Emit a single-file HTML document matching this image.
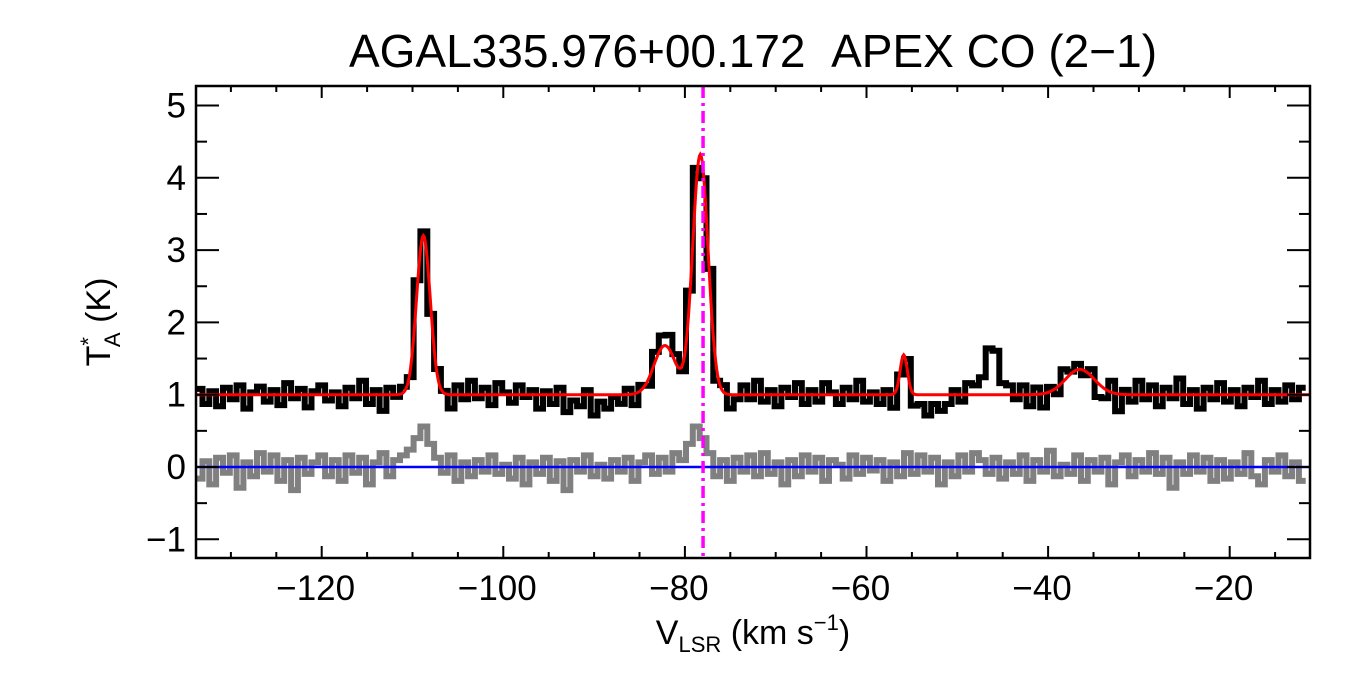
<!DOCTYPE html>
<html><head><meta charset="utf-8"><style>
body{margin:0;background:#fff;}
svg{display:block;font-family:"Liberation Sans",Arial,sans-serif;}
</style></head><body>
<svg id="chart" width="1350" height="675" viewBox="0 0 1350 675" xmlns="http://www.w3.org/2000/svg">
<defs><clipPath id="pc"><rect x="196" y="86" width="1114" height="472"/></clipPath></defs>
<rect width="1350" height="675" fill="#fff"/>
<text x="753" y="67" font-size="46" text-anchor="middle">AGAL335.976+00.172&#160;&#160;APEX CO (2−1)</text>
<g id="plot" clip-path="url(#pc)"></g>
<rect x="196" y="86" width="1114" height="472" fill="none" stroke="#000" stroke-width="2.5"/>
<g id="axes"></g>
<text transform="translate(110,322) rotate(-90)" font-size="34" text-anchor="middle">T<tspan font-size="22" dy="-14">*</tspan><tspan font-size="22" dx="-10" dy="24">A</tspan><tspan dy="-10"> (K)</tspan></text>
<text x="753" y="644" font-size="34" text-anchor="middle">V<tspan font-size="22" dy="8">LSR</tspan><tspan dy="-8"> (km s</tspan><tspan font-size="22" dy="-14">−1</tspan><tspan dy="14">)</tspan></text>
</svg>
<script>
const v0 = -133.5, dv = 0.75;
const gCenters = [-108.8, -82.2, -78.3, -55.9, -36.5];
const gAmps = [2.2, 0.68, 3.32, 0.55, 0.35];
const gSigmas = [0.75, 1.2, 0.85, 0.4, 1.6];
const baseline = 1.0;
const blackNoise = [5,-8,3,-10,6,-4,8,-12,2,7,-6,4,-9,10,-3,5,-11,3,8,-5,2,-10,6,-3,12,-8,4,-14,6,-2,5,-6,10,4,-8,6,2,-12,8,-4,12,-3,6,-9,10,2,-7,8,-2,4,-12,3,-8,6,-15,-5,-10,4,-18,-6,-12,-2,-8,5,-10,4,-6,8,10,12,8,-6,10,15,-8,12,-10,6,-12,-4,8,-4,12,-6,4,-10,6,-2,10,-8,4,-6,10,2,-8,6,-4,12,-6,2,-8,4,-12,-6,10,-10,-8,-18,-8,-14,-8,4,-6,10,8,15,40,38,10,8,-4,8,-10,6,-12,4,-6,10,2,5,-4,6,-12,-8,10,-15,4,-6,12,-4,8,-10,6,-3,14,-8,4,-12,6,-4,10,-6,4,-10,6,-2,12,-8,4,-6,8,-4,6];
const grayResid = [-10,5,-15,8,-5,10,-18,4,-8,12,-4,10,-12,6,-20,8,-6,4,10,-8,6,-12,10,-5,8,-15,4,12,-8,6,10,15,25,35,20,8,-5,10,-12,4,-8,6,-4,10,-6,2,-10,8,-15,4,-6,8,-12,5,-20,6,-4,10,-8,2,-10,6,-4,8,-12,4,10,-6,8,-4,12,6,20,35,25,12,-8,6,-12,8,-4,10,-8,12,-6,4,-15,6,-8,10,-4,8,-12,6,2,-10,10,-6,8,-3,6,-12,4,-8,12,-6,10,-4,8,-15,4,-8,10,-4,12,6,-6,8,-10,4,-6,10,-12,6,-4,14,-8,2,-6,10,-12,6,-4,8,-15,4,10,-8,6,-4,12,-6,8,-18,4,-6,10,-4,8,-12,6,-10,4,-6,12,-8,-15,6,-4,10,-8,4,-12];
const xTicks = [-120,-100,-80,-60,-40,-20];
const yTicks = [-1,0,1,2,3,4,5];
const vLine = -78.0;
const noiseUnit = 0.016;

const X = v => 321.7 + (v + 120) * 9.08;
const Y = t => 467 - t * 72.3;
const NS = "http://www.w3.org/2000/svg";
function fit(v){let s=baseline;for(let k=0;k<gCenters.length;k++){s+=gAmps[k]*Math.exp(-0.5*Math.pow((v-gCenters[k])/gSigmas[k],2));}return s;}
function mk(tag,attrs,parent){const e=document.createElementNS(NS,tag);for(const a in attrs)e.setAttribute(a,attrs[a]);parent.appendChild(e);return e;}
function stepPath(vals){let d="";for(let i=0;i<vals.length;i++){const c=v0+i*dv;const xa=X(c-dv/2),xb=X(c+dv/2),y=Y(vals[i]);d+=(i?"L":"M")+xa.toFixed(1)+","+y.toFixed(1)+"L"+xb.toFixed(1)+","+y.toFixed(1);}return d;}
const plot=document.getElementById("plot"), axes=document.getElementById("axes");
const grayVals=grayResid.map(r=>r*noiseUnit);
const gp=mk("path",{d:stepPath(grayVals),fill:"none",stroke:"#808080","stroke-width":6},plot);


const bl=mk("line",{x1:196,x2:1310,y1:Y(0),y2:Y(0),stroke:"#0000ff","stroke-width":2.5},plot);


const dataVals=blackNoise.map((n,i)=>fit(v0+i*dv)+n*noiseUnit);
const bp=mk("path",{d:stepPath(dataVals),fill:"none",stroke:"#000","stroke-width":6},plot);


let fd="";for(let v=-134;v<=-11;v+=0.1){fd+=(fd?"L":"M")+X(v).toFixed(1)+","+Y(fit(v)).toFixed(1);}
const fp=mk("path",{d:fd,fill:"none",stroke:"#ff0000","stroke-width":3},plot);


const ml=mk("line",{x1:X(vLine),x2:X(vLine),y1:86,y2:558,stroke:"#ff00ff","stroke-width":3.5,"stroke-dasharray":"12,5,3,5"},plot);


for(let v=-130;v<=-15;v+=5){const maj=xTicks.includes(v);const L=maj?12:6;
 mk("line",{x1:X(v),x2:X(v),y1:558,y2:558-L,stroke:"#000","stroke-width":2},axes);
 mk("line",{x1:X(v),x2:X(v),y1:86,y2:86+L,stroke:"#000","stroke-width":2},axes);}
xTicks.forEach(v=>{const t=mk("text",{x:X(v)-6,y:600,"font-size":35,"text-anchor":"middle"},axes);t.textContent="−"+Math.abs(v);
 
 });
for(let t=-1;t<=5;t+=0.5){const maj=Number.isInteger(t);const L=maj?23:11;
 mk("line",{x1:196,x2:196+L,y1:Y(t),y2:Y(t),stroke:"#000","stroke-width":2},axes);
 mk("line",{x1:1310,x2:1310-L,y1:Y(t),y2:Y(t),stroke:"#000","stroke-width":2},axes);}
yTicks.forEach(t=>{const e=mk("text",{x:186,y:Y(t)+12,"font-size":35,"text-anchor":"end"},axes);e.textContent=t<0?"−"+Math.abs(t):String(t);
 
 });
</script>
</body></html>
